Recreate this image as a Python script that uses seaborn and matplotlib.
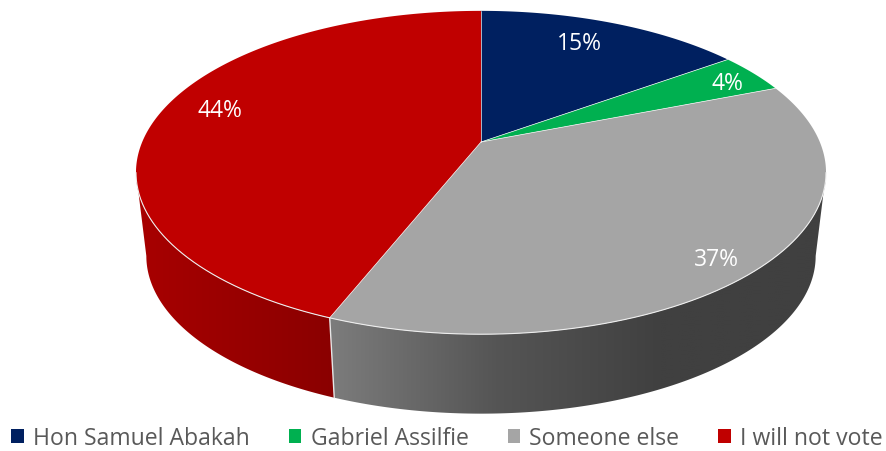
"""
plot.py -- 3D style pie chart of voting intention, drawn on a flat seaborn/matplotlib axes.
"""

import numpy as np
import matplotlib
matplotlib.use("Agg")
import matplotlib.pyplot as plt
from matplotlib.colors import ListedColormap
from matplotlib.patches import Patch, Polygon
import seaborn as sns

categories = ["Hon Samuel Abakah", "Gabriel Assilfie", "Someone else", "I will not vote"]
shares = [15, 4, 37, 44]
top_colors = ["#002060", "#00B050", "#A5A5A5", "#C00000"]

# side wall shading, left to right (only the two front slices show a wall)
side_colors = {
    2: ["#7c7c7c", "#555555", "#404040", "#404040"],
    3: ["#a80000", "#8a0000"],
}

# label placement: fraction of the radius, nudge in degrees
label_r = [0.79, 0.886, 0.894, 0.83]
label_nudge = [-2.3, 1.2, 2.1, 4]

# -- Pie projection ------------------------------------------------------------

CX, CY = 481, 143
RADIUS = 338.8
PERSP = 0.1889
TILT = -128.9
WIDEST_TOP = 172.5
WIDEST_LOW = 256
LOW_SCALE_X = 0.97
LOW_SCALE_Y = 0.975

# the wall's silhouette leaves the top face where the ellipse is widest
WALL_START = np.degrees(np.arccos(-PERSP))
WALL_STOP = 360 - WALL_START


def project_top(theta_deg, r=1.0):
    """Clockwise angle from 12 o'clock -> screen pixels on the top face."""
    t = np.radians(theta_deg)
    u = r * np.cos(t)
    v = r * np.sin(t)
    w = 1 + PERSP * u
    return CX + RADIUS * v / w, (TILT * u + CY) / w


def project_low(theta_deg):
    x, y = project_top(theta_deg)
    return CX + LOW_SCALE_X * (x - CX), WIDEST_LOW + LOW_SCALE_Y * (y - WIDEST_TOP)


sns.set_theme(style="white")
plt.rcParams["font.family"] = ["Open Sans", "DejaVu Sans"]

fig, ax = plt.subplots(figsize=(8.87, 4.52), dpi=100)
fig.subplots_adjust(0, 0, 1, 1)

edges = np.concatenate([[0], np.cumsum(shares)]) * 3.6

# -- Side wall -----------------------------------------------------------------

for i, ramp_colors in side_colors.items():
    start, stop = max(edges[i], WALL_START), min(edges[i + 1], WALL_STOP)
    thetas = np.linspace(start, stop, 300)
    xt, yt = project_top(thetas)
    xl, yl = project_low(thetas)
    outline = np.column_stack([np.r_[xt, xl[::-1]], np.r_[yt, yl[::-1]]])
    wall = Polygon(outline, closed=True, facecolor="none", edgecolor="none")
    ax.add_patch(wall)
    # gradient runs over the wall's visible width
    cmap = ListedColormap(sns.blend_palette(ramp_colors, 256))
    img = ax.imshow(
        np.linspace(0, 1, 256)[None, :],
        cmap=cmap,
        extent=(outline[:, 0].min(), outline[:, 0].max(), outline[:, 1].max(), outline[:, 1].min()),
        aspect="auto",
        interpolation="bilinear",
    )
    img.set_clip_path(wall)

# seam between the red and grey walls
seam = edges[3]
ax.plot(
    [project_top(seam)[0], project_low(seam)[0]],
    [project_top(seam)[1], project_low(seam)[1]],
    color="#e6e6e6",
    lw=1,
)

# -- Top face ------------------------------------------------------------------

for i in range(len(shares)):
    thetas = np.linspace(edges[i], edges[i + 1], 200)
    x, y = project_top(thetas)
    pts = np.column_stack([np.r_[CX, x], np.r_[CY, y]])
    ax.add_patch(Polygon(pts, closed=True, facecolor=top_colors[i], edgecolor="none"))

# thin light rim along the front of the top face, and the slice boundaries
rim_x, rim_y = project_top(np.linspace(WALL_START, WALL_STOP, 400))
ax.plot(rim_x, rim_y, color="#eeeeee", lw=0.8)
for i in range(len(shares)):
    x, y = project_top(edges[i])
    ax.plot([CX, x], [CY, y], color="#f2f2f2", lw=0.5)

ax.set_xlim(0, 887)
ax.set_ylim(452, 0)
ax.axis("off")

# -- Labels and legend ---------------------------------------------------------

for i, share in enumerate(shares):
    mid = (edges[i] + edges[i + 1]) / 2 + label_nudge[i]
    lx, ly = project_top(mid, label_r[i])
    ax.text(lx, ly, f"{share}%", color="white", fontsize=16.5, ha="center", va="center")

handles = [Patch(facecolor=c, edgecolor="none", label=n) for c, n in zip(top_colors, categories)]
ax.legend(
    handles=handles,
    loc="lower center",
    bbox_to_anchor=(0.504, -0.033),
    ncol=4,
    frameon=False,
    fontsize=16.6,
    labelcolor="#595959",
    handlelength=0.55,
    handleheight=0.55,
    handletextpad=0.4,
    columnspacing=1.69,
    borderpad=0.2,
)

fig.savefig("out.png", dpi=100)
